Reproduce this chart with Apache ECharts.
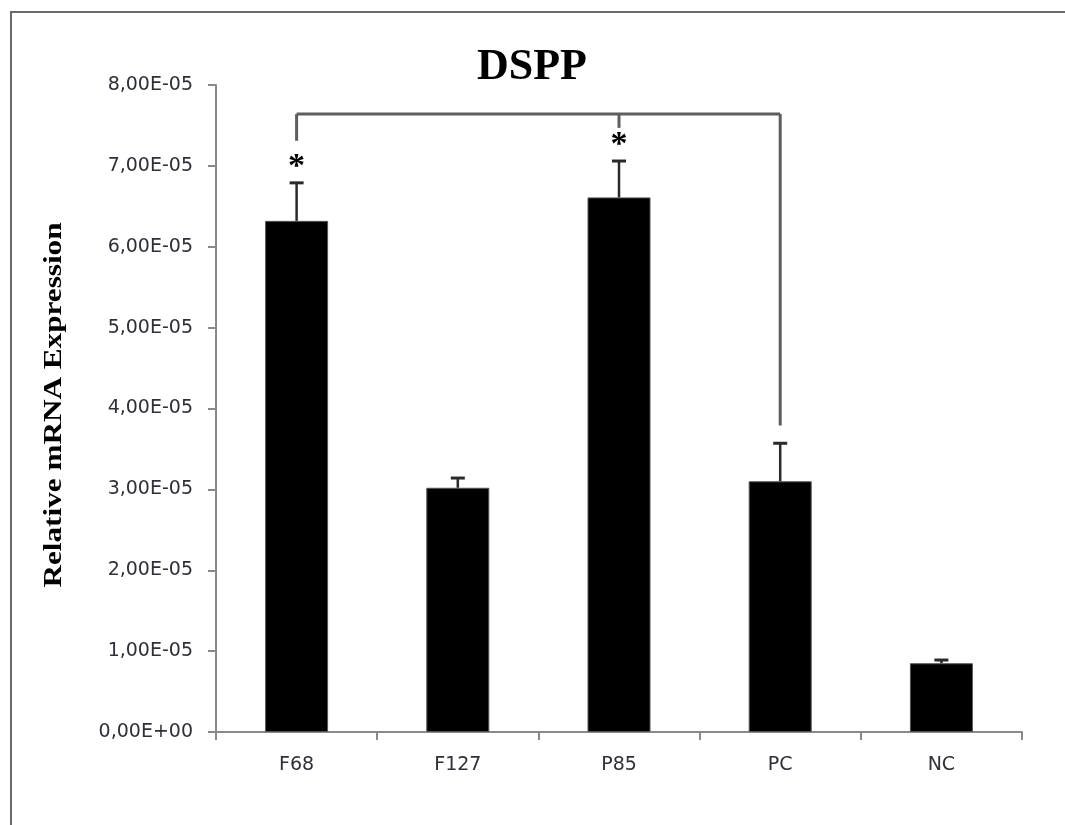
<!DOCTYPE html>
<html>
<head>
<meta charset="utf-8">
<title>DSPP</title>
<script src="https://cdn.jsdelivr.net/npm/echarts@6/dist/echarts.min.js"></script>
<style>
  html, body { margin: 0; padding: 0; background: #ffffff; }
  #chart { width: 1065px; height: 825px; }
</style>
</head>
<body>
<div id="chart"></div>
<script>
// Groups and measured relative DSPP expression (mean and SD)
const categories = ['F68', 'F127', 'P85', 'PC', 'NC'];
const means = [6.32e-5, 3.02e-5, 6.61e-5, 3.10e-5, 0.85e-5];
const sds = [0.47e-5, 0.12e-5, 0.45e-5, 0.47e-5, 0.04e-5];
// Significant groups (asterisk) and the comparison bracket to PC
const significant = ['F68', 'P85'];
const bracketLevel = 7.64e-5;
const bracketLegs = [
  ['F68', 7.31e-5],
  ['P85', 7.47e-5],
  ['PC', 3.79e-5]
];
const yTicks = { min: 0, max: 8e-5, step: 1e-5 };

const title = 'DSPP';
const yName = 'Relative mRNA Expression';

const AXIS_GRAY = '#8a8a8a';
const LABEL_COLOR = '#2f2f38';

// "8.00e-5" -> "8,00E-05"
function sciComma(v) {
  const s = Number(v).toExponential(2);
  const [m, e] = s.split('e');
  const sign = e[0] === '-' ? '-' : '+';
  const digits = e.replace(/[+-]/, '').padStart(2, '0');
  return m.replace('.', ',') + 'E' + sign + digits;
}

const chart = echarts.init(document.getElementById('chart'), null, { renderer: 'canvas' });

const option = {
  backgroundColor: '#ffffff',
  animation: false,
  grid: { left: 216, right: 43, top: 85, bottom: 93, containLabel: false },
  graphic: [
    {
      type: 'rect',
      shape: { x: 11, y: 12, width: 1200, height: 1000 },
      style: { fill: 'none', stroke: '#6a6a6a', lineWidth: 2 },
      silent: true
    },
    {
      type: 'text',
      x: 532, y: 68,
      style: {
        text: title,
        font: 'bold 44px "Liberation Serif", "Times New Roman", serif',
        fill: '#000000',
        textAlign: 'center',
        textVerticalAlign: 'middle'
      },
      silent: true
    },
    {
      type: 'text',
      x: 54, y: 405,
      rotation: Math.PI / 2,
      scaleX: 1.2,
      style: {
        text: yName,
        font: 'bold 26px "Liberation Serif", "Times New Roman", serif',
        fill: '#000000',
        textAlign: 'center',
        textVerticalAlign: 'middle'
      },
      silent: true
    }
  ],
  xAxis: {
    type: 'category',
    data: categories,
    boundaryGap: true,
    axisLine: { show: true, lineStyle: { color: AXIS_GRAY, width: 2 } },
    axisTick: { show: true, length: 8, inside: false, lineStyle: { color: AXIS_GRAY, width: 2 } },
    axisLabel: {
      margin: 24,
      color: LABEL_COLOR,
      fontFamily: '"DejaVu Sans", sans-serif',
      fontSize: 19
    },
    splitLine: { show: false }
  },
  yAxis: {
    type: 'value',
    min: yTicks.min,
    max: yTicks.max,
    interval: yTicks.step,
    axisLine: { show: true, lineStyle: { color: AXIS_GRAY, width: 2 } },
    axisTick: { show: true, length: 8, inside: false, lineStyle: { color: AXIS_GRAY, width: 2 } },
    axisLabel: {
      margin: 23,
      color: LABEL_COLOR,
      fontFamily: '"DejaVu Sans", sans-serif',
      fontSize: 19,
      formatter: sciComma
    },
    splitLine: { show: false }
  },
  series: [
    {
      name: 'Mean',
      type: 'bar',
      data: means,
      barWidth: 63,
      itemStyle: { color: '#000000', borderColor: '#555555', borderWidth: 1 },
      z: 2
    },
    {
      // SD error bars (upper whisker with cap) and significance asterisks
      name: 'SD',
      type: 'custom',
      data: categories.map((c, i) => [i, means[i], means[i] + sds[i]]),
      renderItem: function (params, api) {
        const i = api.value(0);
        const base = api.coord([i, api.value(1)]);
        const top = api.coord([i, api.value(2)]);
        const half = 7;
        const children = [
          {
            type: 'line',
            shape: { x1: base[0], y1: base[1], x2: top[0], y2: top[1] },
            style: { stroke: '#2a2a2a', lineWidth: 2.5 }
          },
          {
            type: 'line',
            shape: { x1: top[0] - half, y1: top[1], x2: top[0] + half, y2: top[1] },
            style: { stroke: '#2a2a2a', lineWidth: 3 }
          }
        ];
        if (significant.indexOf(categories[i]) >= 0) {
          children.push({
            type: 'text',
            x: top[0], y: top[1] - 16,
            style: {
              text: '*',
              font: 'bold 34px "Liberation Serif", "Times New Roman", serif',
              fill: '#000000',
              textAlign: 'center',
              textVerticalAlign: 'middle'
            }
          });
        }
        return { type: 'group', children: children };
      },
      z: 3,
      silent: true
    },
    {
      // Comparison bracket F68 / P85 -> PC
      name: 'Bracket',
      type: 'custom',
      data: [[0]],
      renderItem: function (params, api) {
        const legs = bracketLegs.map(function (l) {
          const idx = categories.indexOf(l[0]);
          return { top: api.coord([idx, bracketLevel]), end: api.coord([idx, l[1]]) };
        });
        const children = [
          {
            type: 'line',
            shape: { x1: legs[0].top[0], y1: legs[0].top[1], x2: legs[legs.length - 1].top[0], y2: legs[0].top[1] },
            style: { stroke: '#5e5e5e', lineWidth: 3 }
          }
        ];
        legs.forEach(function (l) {
          children.push({
            type: 'line',
            shape: { x1: l.top[0], y1: l.top[1], x2: l.end[0], y2: l.end[1] },
            style: { stroke: '#5e5e5e', lineWidth: 3 }
          });
        });
        return { type: 'group', children: children };
      },
      z: 3,
      silent: true
    }
  ]
};

chart.setOption(option);
</script>
</body>
</html>
